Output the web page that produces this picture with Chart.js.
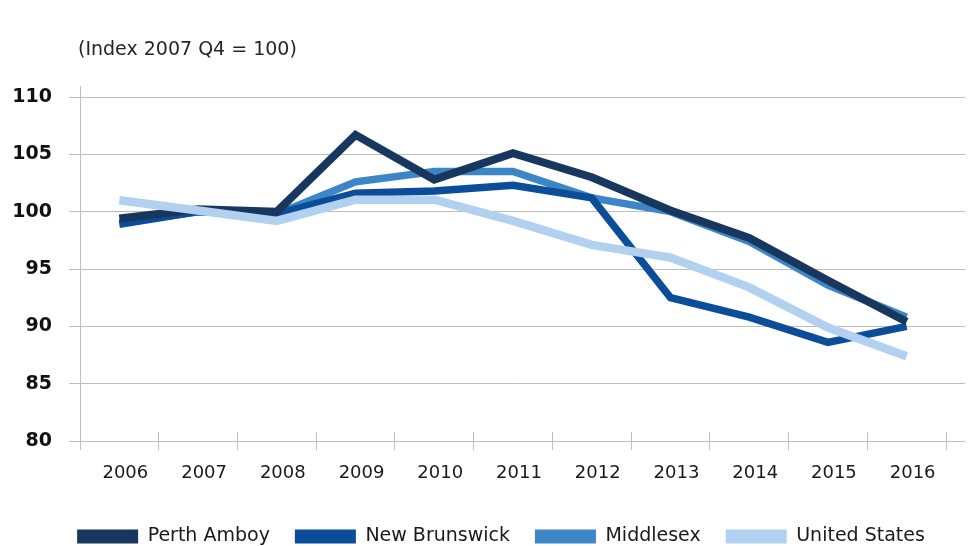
<!DOCTYPE html>
<html>
<head>
<meta charset="utf-8">
<script src="https://cdn.jsdelivr.net/npm/chart.js@4"></script>
<style>
  html, body { margin: 0; padding: 0; background: #fff; overflow: hidden; }
</style>
</head>
<body>
<canvas id="chart" width="977" height="560"></canvas>
<script>
const years = ['2006', '2007', '2008', '2009', '2010', '2011', '2012', '2013', '2014', '2015', '2016'];
const perthAmboy = [99.4, 100.2, 100.0, 106.7, 102.8, 105.1, 103.0, 100.1, 97.7, 94.0, 90.4];
const newBrunswick = [98.9, 100.0, 99.8, 101.6, 101.8, 102.3, 101.2, 92.5, 90.8, 88.6, 90.0];
const middlesex = [99.0, 100.0, 99.8, 102.6, 103.5, 103.5, 101.2, 100.0, 97.4, 93.6, 90.8];
const unitedStates = [101.0, 100.1, 99.2, 101.05, 101.05, 99.2, 97.1, 96.0, 93.4, 89.9, 87.4];
const yTicks = [80, 85, 90, 95, 100, 105, 110];
const unitLabel = '(Index 2007 Q4 = 100)';

const gridColor = '#bdbdbd';

function align(p) {
    return Math.round(p - 0.5) + 0.5;
}

// extra bits Excel draws: label above the axis, longer grid lines, crossing tick marks
const extrasPlugin = {
    id: 'extras',
    afterLayout(chart) {
        // legend in the original sits a bit right of centre
        chart.legend.left += 28;
        chart.legend.right += 28;
    },
    afterDraw(chart) {
        const ctx = chart.ctx;
        const area = chart.chartArea;
        const x = chart.scales.x;
        const y = chart.scales.y;
        ctx.save();
        ctx.strokeStyle = gridColor;
        ctx.lineWidth = 1;
        ctx.beginPath();
        yTicks.forEach(v => {
            const py = align(y.getPixelForValue(v));
            ctx.moveTo(area.right - 1, py);
            ctx.lineTo(965, py);
        });
        const ax = align(area.left);
        ctx.moveTo(ax, area.top);
        ctx.lineTo(ax, 86);
        for (let i = 0; i <= years.length; i++) {
            const px = align(x.getPixelForValue(i - 0.5));
            ctx.moveTo(px, area.bottom);
            ctx.lineTo(px, area.bottom - 9);
        }
        ctx.stroke();

        ctx.fillStyle = '#262626';
        ctx.font = '19px "DejaVu Sans"';
        ctx.textAlign = 'left';
        ctx.textBaseline = 'middle';
        ctx.fillText(unitLabel, 78, 50);
        ctx.restore();
    }
};

function series(label, data, color, width, order) {
    return {
        label: label,
        data: data,
        borderColor: color,
        backgroundColor: color,
        borderWidth: width,
        borderJoinStyle: 'miter',
        pointRadius: 0,
        pointHoverRadius: 0,
        tension: 0,
        fill: false,
        order: order
    };
}

Chart.defaults.font.family = '"DejaVu Sans", Verdana, sans-serif';

new Chart(document.getElementById('chart'), {
    type: 'line',
    data: {
        labels: years,
        datasets: [
            series('Perth Amboy', perthAmboy, '#17375e', 8, 1),
            series('New Brunswick', newBrunswick, '#0b4d98', 7.5, 2),
            series('Middlesex', middlesex, '#3c86c8', 7.5, 3),
            series('United States', unitedStates, '#b2d1f0', 8.5, 0)
        ]
    },
    options: {
        responsive: false,
        animation: false,
        layout: {
            padding: {left: 0, right: 31, top: 97, bottom: 4}
        },
        plugins: {
            legend: {
                position: 'bottom',
                labels: {
                    boxWidth: 61,
                    boxHeight: 14,
                    padding: 25,
                    color: '#1a1a1a',
                    font: {size: 19},
                    sort: (a, b) => a.datasetIndex - b.datasetIndex,
                    generateLabels(chart) {
                        const items = Chart.defaults.plugins.legend.labels.generateLabels(chart);
                        items.forEach(it => { it.lineWidth = 0; });
                        return items;
                    }
                }
            },
            tooltip: {enabled: false}
        },
        scales: {
            x: {
                offset: true,
                grid: {
                    display: true,
                    offset: true,
                    drawOnChartArea: false,
                    drawTicks: true,
                    tickLength: 9,
                    color: gridColor
                },
                border: {color: gridColor},
                ticks: {
                    color: '#1a1a1a',
                    font: {size: 18},
                    padding: 13,
                    labelOffset: 6,
                    maxRotation: 0,
                    autoSkip: false
                },
                afterFit(scale) {
                    scale.height = 61;
                }
            },
            y: {
                min: 80,
                max: 110,
                grid: {
                    color: gridColor,
                    tickLength: 11
                },
                border: {color: gridColor},
                ticks: {
                    stepSize: 5,
                    color: '#111',
                    padding: 17,
                    font: {size: 19, weight: 'bold'}
                },
                afterFit(scale) {
                    scale.width = 80;
                }
            }
        }
    },
    plugins: [extrasPlugin]
});
</script>
</body>
</html>
